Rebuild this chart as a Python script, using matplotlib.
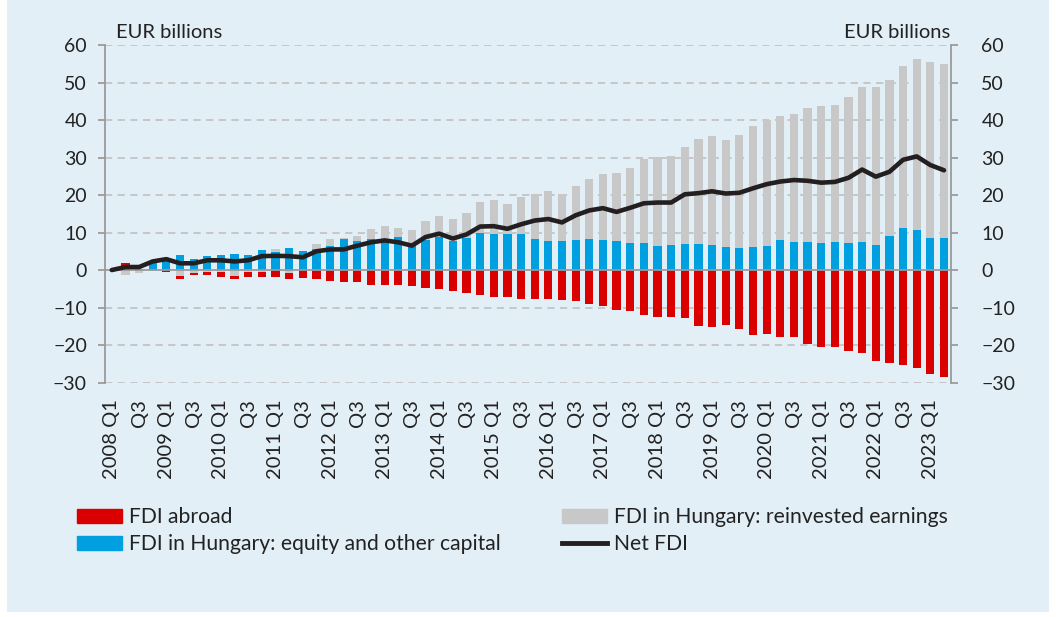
import numpy as np
import matplotlib.pyplot as plt
from matplotlib.patches import Patch, Rectangle
from matplotlib.lines import Line2D

plt.rcParams['font.family'] = ['Lato', 'DejaVu Sans']

# quarterly data, 2008 Q1 .. 2023 Q2 (EUR billions)
years = list(range(2008, 2024))
quarters = [f"{y} Q{q}" for y in years for q in (1, 2, 3, 4)][:62]

fdi_abroad = [0.0, 1.8, 0.0, 0.0, -0.4, -0.7, -0.5, -0.9, -1.5, -0.7,
              -1.3, -1.4, -1.8, -1.7, -2.0, -2.3, -2.9, -3.3, -3.3, -3.9,
              -4.0, -4.0, -4.3, -4.7, -5.1, -5.5, -6.0, -6.7, -7.1, -7.1,
              -7.6, -7.7, -7.8, -8.0, -8.3, -9.0, -9.5, -10.6, -10.9, -12.0,
              -12.4, -12.4, -12.7, -14.8, -15.1, -14.7, -15.8, -17.2, -17.1, -17.8,
              -17.9, -19.6, -20.4, -20.6, -21.7, -22.2, -24.2, -24.9, -25.3, -26.2,
              -27.7, -28.6]

equity = [0.0, 0.0, 0.3, 1.8, 3.2, 3.9, 3.0, 3.7, 3.9, 4.4,
          4.1, 5.3, 4.9, 6.0, 5.2, 5.6, 6.4, 8.2, 7.8, 8.2,
          8.4, 8.9, 7.3, 8.0, 8.9, 7.8, 8.6, 10.0, 9.6, 9.6,
          9.6, 8.3, 7.7, 7.7, 8.0, 8.2, 8.0, 7.7, 7.2, 7.2,
          6.5, 6.7, 6.9, 7.0, 6.7, 6.2, 5.9, 6.1, 6.4, 8.0,
          7.5, 7.5, 7.1, 7.4, 7.3, 7.5, 6.7, 9.2, 11.2, 10.7,
          8.5, 8.6]

reinvested = [0.0, -1.3, -0.9, -0.2, 0.0, -1.6, -0.9, -0.5, -0.4, -1.6,
              -0.5, -0.4, 0.7, -0.8, 0.0, 1.3, 1.8, 0.3, 1.4, 2.8,
              3.3, 2.2, 3.4, 5.1, 5.6, 5.8, 6.5, 8.2, 9.1, 8.0,
              10.0, 12.1, 13.4, 12.7, 14.5, 16.2, 17.7, 18.1, 20.1, 22.4,
              23.7, 23.7, 25.8, 28.0, 29.1, 28.6, 30.1, 32.4, 33.5, 33.1,
              34.2, 35.7, 36.6, 36.6, 38.8, 41.2, 42.0, 41.6, 43.2, 45.5,
              46.9, 46.3]

net_fdi = [0.0, 0.8, 0.8, 2.3, 2.9, 1.8, 1.8, 2.6, 2.6, 2.3,
           2.6, 3.7, 3.8, 3.7, 3.4, 5.0, 5.5, 5.5, 6.5, 7.4,
           7.9, 7.4, 6.5, 8.8, 9.7, 8.4, 9.5, 11.6, 11.7, 11.0,
           12.2, 13.2, 13.6, 12.7, 14.6, 15.9, 16.5, 15.5, 16.6, 17.8,
           18.0, 18.0, 20.2, 20.5, 21.0, 20.4, 20.6, 21.8, 22.9, 23.6,
           24.0, 23.8, 23.3, 23.5, 24.6, 26.8, 24.9, 26.2, 29.4, 30.3,
           28.0, 26.6]

tick_labels = [q if q.endswith('Q1') else 'Q3' for q in quarters[::2]]

RED = '#db0000'
BLUE = '#009fe0'
GRAY = '#c8c8c8'
BG = '#e3eff7'
AXC = '#9a9a9a'
TXT = '#222222'

fig = plt.figure(figsize=(10.56, 6.17), dpi=100, facecolor='white')
fig.patches.append(Rectangle((0.007, 0.008), 0.986, 0.992, transform=fig.transFigure,
                             facecolor=BG, edgecolor='none', zorder=-10))
ax = fig.add_axes([0.0994, 0.380, 0.801, 0.547])
ax.patch.set_alpha(0)

x = np.arange(len(quarters))
w = 0.6
pos_base = np.zeros(len(x))
neg_base = np.zeros(len(x))
# stack in excel order: equity, reinvested, abroad
for vals, col in [(equity, BLUE), (reinvested, GRAY), (fdi_abroad, RED)]:
    v = np.array(vals)
    bottom = np.where(v >= 0, pos_base, neg_base)
    ax.bar(x, v, w, bottom=bottom, color=col, zorder=3)
    pos_base = pos_base + np.where(v > 0, v, 0)
    neg_base = neg_base + np.where(v < 0, v, 0)

ax.plot(x, net_fdi, color='#231f20', lw=3.3, zorder=5, solid_joinstyle='round',
        solid_capstyle='round')

ax.set_xlim(-0.5, len(x) - 0.5)
ax.set_ylim(-30, 60)
ax.set_yticks(range(-30, 61, 10))
for yv in range(-30, 61, 10):
    if yv != 0:
        ax.axhline(yv, color='#c3c3c3', lw=1.3, ls=(0, (4, 3)), zorder=1)
ax.axhline(0, color=AXC, lw=1.3, zorder=4)

for s in ['top', 'bottom', 'right']:
    ax.spines[s].set_visible(False)
ax.spines['left'].set_color(AXC)
ax.spines['left'].set_linewidth(1.3)
ax.tick_params(axis='y', direction='out', length=5, width=1.3, color=AXC,
               labelsize=14, labelcolor=TXT, pad=8)

# right axis with its own label padding
ax2 = ax.twinx()
ax2.set_ylim(ax.get_ylim())
ax2.set_yticks(range(-30, 61, 10))
for s in ['top', 'bottom', 'left']:
    ax2.spines[s].set_visible(False)
ax2.spines['right'].set_color(AXC)
ax2.spines['right'].set_linewidth(1.3)
ax2.tick_params(axis='y', direction='out', length=5, width=1.3, color=AXC,
                labelsize=14, labelcolor=TXT, pad=17)

ax.set_xticks(x[::2])
ax.set_xticklabels(tick_labels, rotation=90, fontsize=14.5, color=TXT)
ax.tick_params(axis='x', length=0, pad=12)

fig.text(0.110, 0.947, 'EUR billions', fontsize=14.5, color=TXT, va='center')
fig.text(0.900, 0.947, 'EUR billions', fontsize=14.5, color=TXT, va='center', ha='right')

handles = [Patch(color=RED), Patch(color=BLUE), Patch(color=GRAY),
           Line2D([], [], color='#231f20', lw=3.5)]
labels = ['FDI abroad', 'FDI in Hungary: equity and other capital',
          'FDI in Hungary: reinvested earnings', 'Net FDI']
fig.legend(handles, labels, ncol=2, loc='upper left', bbox_to_anchor=(0.073, 0.178),
           frameon=False, fontsize=15.2, handlelength=2.15, handleheight=0.65,
           handletextpad=0.3, columnspacing=2.9, labelspacing=0.33,
           borderaxespad=0, borderpad=0, labelcolor=TXT)

fig.savefig('out.png', dpi=100, facecolor=fig.get_facecolor())
